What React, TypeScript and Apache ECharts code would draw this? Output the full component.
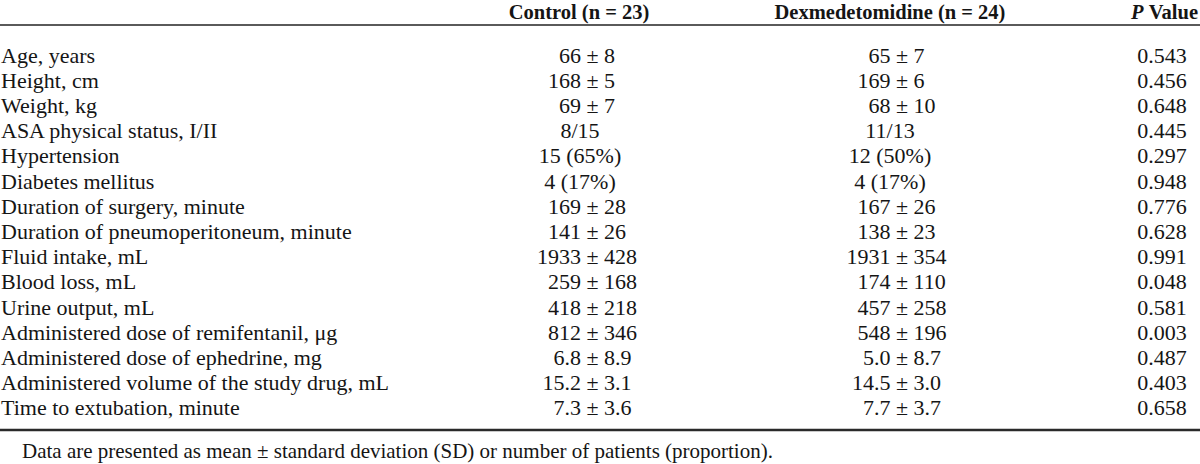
import React, { useEffect, useRef } from "react";
import * as echarts from "echarts";

const headerControl = "Control (n = 23)";
const headerDex = "Dexmedetomidine (n = 24)";
const footnote = "Data are presented as mean ± standard deviation (SD) or number of patients (proportion).";

const rowLabels = [
  "Age, years",
  "Height, cm",
  "Weight, kg",
  "ASA physical status, I/II",
  "Hypertension",
  "Diabetes mellitus",
  "Duration of surgery, minute",
  "Duration of pneumoperitoneum, minute",
  "Fluid intake, mL",
  "Blood loss, mL",
  "Urine output, mL",
  "Administered dose of remifentanil, μg",
  "Administered dose of ephedrine, mg",
  "Administered volume of the study drug, mL",
  "Time to extubation, minute",
];

const controlCells = [
  "66 ± 8", "168 ± 5", "69 ± 7", "8/15", "15 (65%)", "4 (17%)", "169 ± 28", "141 ± 26",
  "1933 ± 428", "259 ± 168", "418 ± 218", "812 ± 346", "6.8 ± 8.9", "15.2 ± 3.1", "7.3 ± 3.6",
];

const dexCells = [
  "65 ± 7", "169 ± 6", "68 ± 10", "11/13", "12 (50%)", "4 (17%)", "167 ± 26", "138 ± 23",
  "1931 ± 354", "174 ± 110", "457 ± 258", "548 ± 196", "5.0 ± 8.7", "14.5 ± 3.0", "7.7 ± 3.7",
];

const pValues = [
  "0.543", "0.456", "0.648", "0.445", "0.297", "0.948", "0.776", "0.628",
  "0.991", "0.048", "0.581", "0.003", "0.487", "0.403", "0.658",
];

const FONT = '"Liberation Serif", "Times New Roman", serif';
const FS = 22;
const HFS = 20.5;
const NFS = 21;
const TEXT_COLOR = "#151515";

export default function App() {
  const ref = useRef<HTMLDivElement>(null);
  useEffect(() => {
    if (!ref.current) return;
    const chart = echarts.init(ref.current, undefined, { renderer: "svg" });

    const canvas = document.createElement("canvas");
    const ctx = canvas.getContext("2d")!;
    ctx.font = `${FS}px ${FONT}`;
    const measure = (s: string) => ctx.measureText(s).width;

    const rowY0 = 55;
    const rowStep = 25.2;
    const headerY = 11.6;

    const colControl = { center: 580, pm: 592.5 };
    const colDex = { center: 890, pm: 902 };
    const pCenter = 1162;

    const baseStyle = { fontFamily: FONT, fontSize: FS, fill: TEXT_COLOR, verticalAlign: "middle" };
    const headStyle = { ...baseStyle, fontSize: HFS, fontWeight: "bold" };

    const cellEl = (s: string, col: { center: number; pm: number }, y: number) => {
      if (s.includes(" ± ")) {
        const left = s.split(" ± ")[0];
        const x = col.pm - measure(left + " ") - measure("±") / 2;
        return { type: "text", x, y, style: { ...baseStyle, text: s, align: "left" } };
      }
      return { type: "text", x: col.center, y, style: { ...baseStyle, text: s, align: "center" } };
    };

    const elements: any[] = [];
    // header
    elements.push({ type: "text", x: 579, y: headerY, style: { ...headStyle, text: headerControl, align: "center" } });
    elements.push({ type: "text", x: 890, y: headerY, style: { ...headStyle, text: headerDex, align: "center" } });
    elements.push({
      type: "text", x: 1198, y: headerY,
      style: {
        ...headStyle, text: "{i|P} {b|Value}", align: "right",
        rich: {
          i: { fontFamily: FONT, fontSize: HFS, fontStyle: "italic", fontWeight: "bold", color: TEXT_COLOR },
          b: { fontFamily: FONT, fontSize: HFS, fontWeight: "bold", color: TEXT_COLOR },
        },
      },
    });
    // rules
    elements.push({ type: "line", shape: { x1: 0, y1: 25, x2: 1200, y2: 25 }, style: { stroke: "#5a5a5a", lineWidth: 2 } });
    elements.push({ type: "line", shape: { x1: 0, y1: 430, x2: 1200, y2: 430 }, style: { stroke: "#2a2a2a", lineWidth: 2.5 } });

    rowLabels.forEach((label, i) => {
      const y = rowY0 + rowStep * i;
      elements.push({ type: "text", x: 1, y, style: { ...baseStyle, text: label, align: "left" } });
      elements.push(cellEl(controlCells[i], colControl, y));
      elements.push(cellEl(dexCells[i], colDex, y));
      elements.push({ type: "text", x: pCenter, y, style: { ...baseStyle, text: pValues[i], align: "center" } });
    });

    elements.push({ type: "text", x: 22, y: 450.9, style: { ...baseStyle, fontSize: NFS, text: footnote, align: "left" } });

    chart.setOption({
      animation: false,
      backgroundColor: "#ffffff",
      graphic: { elements },
    });

    return () => chart.dispose();
  }, []);

  return (
    <div
      ref={ref}
      style={{ position: "fixed", left: 0, top: 0, width: 1200, height: 464, background: "#fff" }}
    />
  );
}
